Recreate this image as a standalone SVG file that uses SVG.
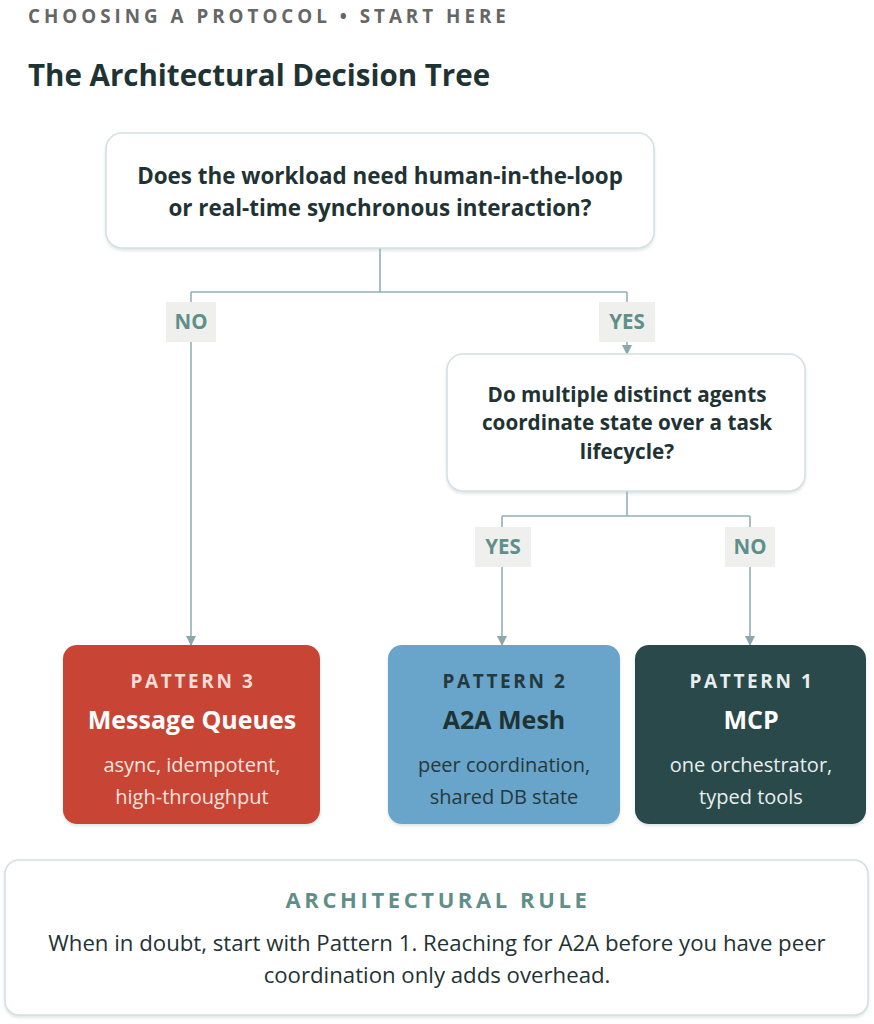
<svg xmlns="http://www.w3.org/2000/svg" width="874" height="1024" viewBox="0 0 874 1024">
<style>
.bg{fill:#ffffff}
.q{fill:#ffffff;stroke:#d3e0e2;stroke-width:1.5}
.qt{font-family:"Open Sans","Noto Sans",sans-serif;font-weight:700;fill:#1f3334;text-anchor:middle}
.lbl{fill:#efefed}
.lt{font-family:"Open Sans","Noto Sans",sans-serif;font-weight:700;font-size:20.5px;fill:#5f8f8a;text-anchor:middle}
.conn{fill:none;stroke:#93b0b4;stroke-width:1.6}
.pk{font-family:"Open Sans","Noto Sans",sans-serif;font-weight:700;font-size:19px;letter-spacing:2.6px;text-anchor:middle}
.pn{font-family:"Open Sans","Noto Sans",sans-serif;font-weight:700;font-size:25px;text-anchor:middle}
.pd{font-family:"Open Sans","Noto Sans",sans-serif;font-weight:400;font-size:20px;text-anchor:middle}
</style>
<defs>
<marker id="ah" viewBox="0 0 10 10" refX="10" refY="5" markerWidth="10" markerHeight="10" markerUnits="userSpaceOnUse" orient="auto">
<path d="M0,0 L10,5 L0,10 z" fill="#8aa7ab"/>
</marker>
<filter id="sh" x="-5%" y="-5%" width="110%" height="115%">
<feDropShadow dx="0" dy="2" stdDeviation="1.5" flood-color="#9fb5b8" flood-opacity="0.35"/>
</filter>
</defs>
<rect class="bg" x="0" y="0" width="874" height="1024"/>
<text x="28" y="23" font-family="'Open Sans','Noto Sans',sans-serif" font-weight="700" font-size="18.8" letter-spacing="4" fill="#666666">CHOOSING A PROTOCOL • START HERE</text>
<text x="28" y="86" font-family="'Open Sans','Noto Sans',sans-serif" font-weight="700" font-size="29.5" fill="#1e3333">The Architectural Decision Tree</text>

<g id="connectors">
<path class="conn" d="M380,248 V292 M191,292 H627"/>
<path class="conn" d="M191,292 V646" marker-end="url(#ah)"/>
<path class="conn" d="M627,292 V355" marker-end="url(#ah)"/>
<path class="conn" d="M627,491 V516 M502,516 H750"/>
<path class="conn" d="M502,516 V646" marker-end="url(#ah)"/>
<path class="conn" d="M750,516 V646" marker-end="url(#ah)"/>
<rect class="lbl" x="166" y="302" width="50" height="40"/>
<text class="lt" x="191" y="329">NO</text>
<rect class="lbl" x="599" y="302" width="56" height="40"/>
<text class="lt" x="627" y="329">YES</text>
<rect class="lbl" x="475" y="527" width="56" height="40"/>
<text class="lt" x="503" y="554">YES</text>
<rect class="lbl" x="725" y="527" width="50" height="40"/>
<text class="lt" x="750" y="554">NO</text>
</g>

<g id="q1">
<rect class="q" x="106" y="133" width="548" height="115" rx="16" filter="url(#sh)"/>
<text class="qt" x="380" y="184" font-size="22.4">Does the workload need human-in-the-loop</text>
<text class="qt" x="380" y="216" font-size="22.4">or real-time synchronous interaction?</text>
</g>

<g id="q2">
<rect class="q" x="447" y="354" width="358" height="137" rx="16" filter="url(#sh)"/>
<text class="qt" x="627" y="402" font-size="20.7">Do multiple distinct agents</text>
<text class="qt" x="627" y="430" font-size="20.7">coordinate state over a task</text>
<text class="qt" x="627" y="459" font-size="20.7">lifecycle?</text>
</g>

<g id="p3">
<rect x="63" y="645" width="257" height="179" rx="14" fill="#c84535" filter="url(#sh)"/>
<text class="pk" x="193" y="688" fill="#f6dcd7">PATTERN 3</text>
<text class="pn" x="192" y="729" fill="#ffffff">Message Queues</text>
<text class="pd" x="192" y="772" fill="#f8e3df">async, idempotent,</text>
<text class="pd" x="192" y="804" fill="#f8e3df">high-throughput</text>
</g>

<g id="p2">
<rect x="388" y="645" width="232" height="179" rx="14" fill="#69a4ca" filter="url(#sh)"/>
<text class="pk" x="505" y="688" fill="#24393b">PATTERN 2</text>
<text class="pn" x="504" y="729" fill="#1f3334">A2A Mesh</text>
<text class="pd" x="504" y="772" fill="#24393b">peer coordination,</text>
<text class="pd" x="504" y="804" fill="#24393b">shared DB state</text>
</g>

<g id="p1">
<rect x="635" y="645" width="231" height="179" rx="14" fill="#2b494b" filter="url(#sh)"/>
<text class="pk" x="752" y="688" fill="#e8eeee">PATTERN 1</text>
<text class="pn" x="751" y="729" fill="#ffffff">MCP</text>
<text class="pd" x="751" y="772" fill="#e8eeee">one orchestrator,</text>
<text class="pd" x="751" y="804" fill="#e8eeee">typed tools</text>
</g>

<g id="rule">
<rect class="q" x="5" y="860" width="863" height="155" rx="14" filter="url(#sh)"/>
<text x="438" y="908" text-anchor="middle" font-family="'Open Sans','Noto Sans',sans-serif" font-weight="700" font-size="22" letter-spacing="3.6" fill="#5f8f8a">ARCHITECTURAL RULE</text>
<text x="437" y="951" text-anchor="middle" font-family="'Open Sans','Noto Sans',sans-serif" font-size="22.2" fill="#1f3334">When in doubt, start with Pattern 1. Reaching for A2A before you have peer</text>
<text x="437" y="983" text-anchor="middle" font-family="'Open Sans','Noto Sans',sans-serif" font-size="22.2" fill="#1f3334">coordination only adds overhead.</text>
</g>
</svg>
